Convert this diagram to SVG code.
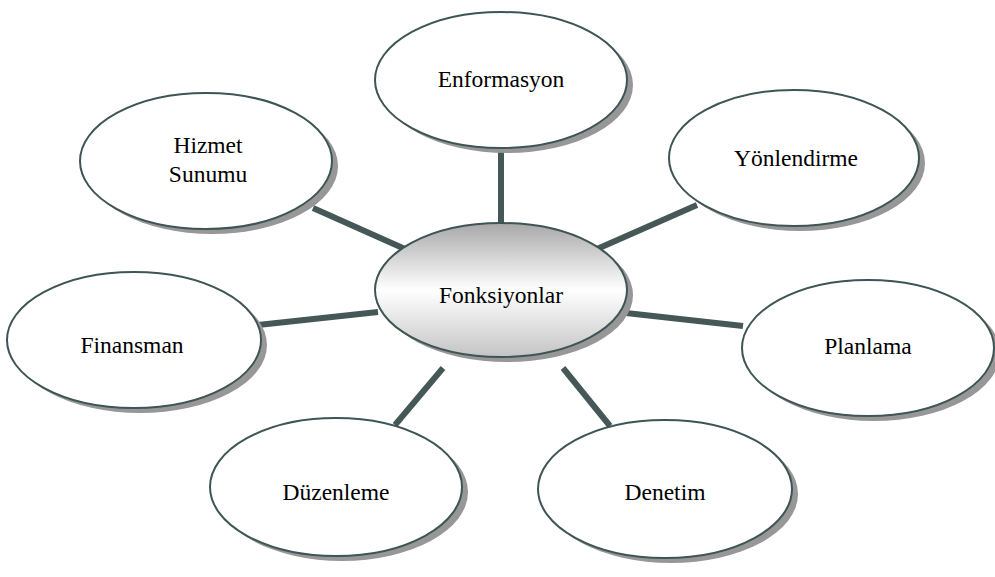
<svg xmlns="http://www.w3.org/2000/svg" width="995" height="577" viewBox="0 0 995 577">
<style>
.shadow{fill:#979797}
.node{fill:#fff;stroke:#3f5454;stroke-width:2}
.lbl{font-family:'Liberation Serif','Times New Roman',serif;font-size:23.5px;fill:#000;text-anchor:middle}
.conn{stroke:#465757;stroke-width:6;stroke-linecap:butt}
</style>
<defs>
<linearGradient id="cg" x1="0" y1="0" x2="0" y2="1">
<stop offset="0" stop-color="#a8a8a8"/>
<stop offset="0.5" stop-color="#ffffff"/>
<stop offset="1" stop-color="#c4c4c4"/>
</linearGradient>
</defs>
<g id="connectors">
<line class="conn" x1="501" y1="147" x2="501" y2="224"/>
<line class="conn" x1="697" y1="205" x2="597" y2="249"/>
<line class="conn" x1="313" y1="208" x2="405" y2="249"/>
<line class="conn" x1="258" y1="325" x2="378" y2="312"/>
<line class="conn" x1="626" y1="313" x2="743" y2="326"/>
<line class="conn" x1="395" y1="425" x2="443" y2="368"/>
<line class="conn" x1="563" y1="368" x2="610" y2="426"/>
</g>
<g id="enformasyon">
<ellipse class="shadow" cx="507" cy="85" rx="126" ry="68"/>
<ellipse class="node" cx="501" cy="80" rx="126" ry="68"/>
<text class="lbl" x="501" y="87">Enformasyon</text>
</g>
<g id="yonlendirme">
<ellipse class="shadow" cx="800" cy="163" rx="125" ry="68"/>
<ellipse class="node" cx="794" cy="158" rx="125" ry="68"/>
<text class="lbl" x="796" y="166">Yönlendirme</text>
</g>
<g id="hizmet">
<ellipse class="shadow" cx="212" cy="166" rx="126" ry="68"/>
<ellipse class="node" cx="206" cy="161" rx="126" ry="68"/>
<text class="lbl" x="208" y="153">Hizmet</text>
<text class="lbl" x="208" y="182">Sunumu</text>
</g>
<g id="finansman">
<ellipse class="shadow" cx="140" cy="345" rx="127" ry="68"/>
<ellipse class="node" cx="134" cy="340" rx="127" ry="68"/>
<text class="lbl" x="132" y="353">Finansman</text>
</g>
<g id="planlama">
<ellipse class="shadow" cx="874" cy="353" rx="126" ry="68"/>
<ellipse class="node" cx="868" cy="348" rx="126" ry="68"/>
<text class="lbl" x="868" y="354">Planlama</text>
</g>
<g id="duzenleme">
<ellipse class="shadow" cx="342" cy="492" rx="126" ry="69"/>
<ellipse class="node" cx="336" cy="487" rx="126" ry="69"/>
<text class="lbl" x="336" y="500">Düzenleme</text>
</g>
<g id="denetim">
<ellipse class="shadow" cx="671" cy="494" rx="127" ry="69"/>
<ellipse class="node" cx="665" cy="489" rx="127" ry="69"/>
<text class="lbl" x="665" y="500">Denetim</text>
</g>
<g id="fonksiyonlar">
<ellipse class="shadow" cx="507" cy="295" rx="126" ry="67"/>
<ellipse class="node" cx="501" cy="290" rx="126" ry="67" style="fill:url(#cg)"/>
<text class="lbl" x="501" y="303">Fonksiyonlar</text>
</g>
</svg>
